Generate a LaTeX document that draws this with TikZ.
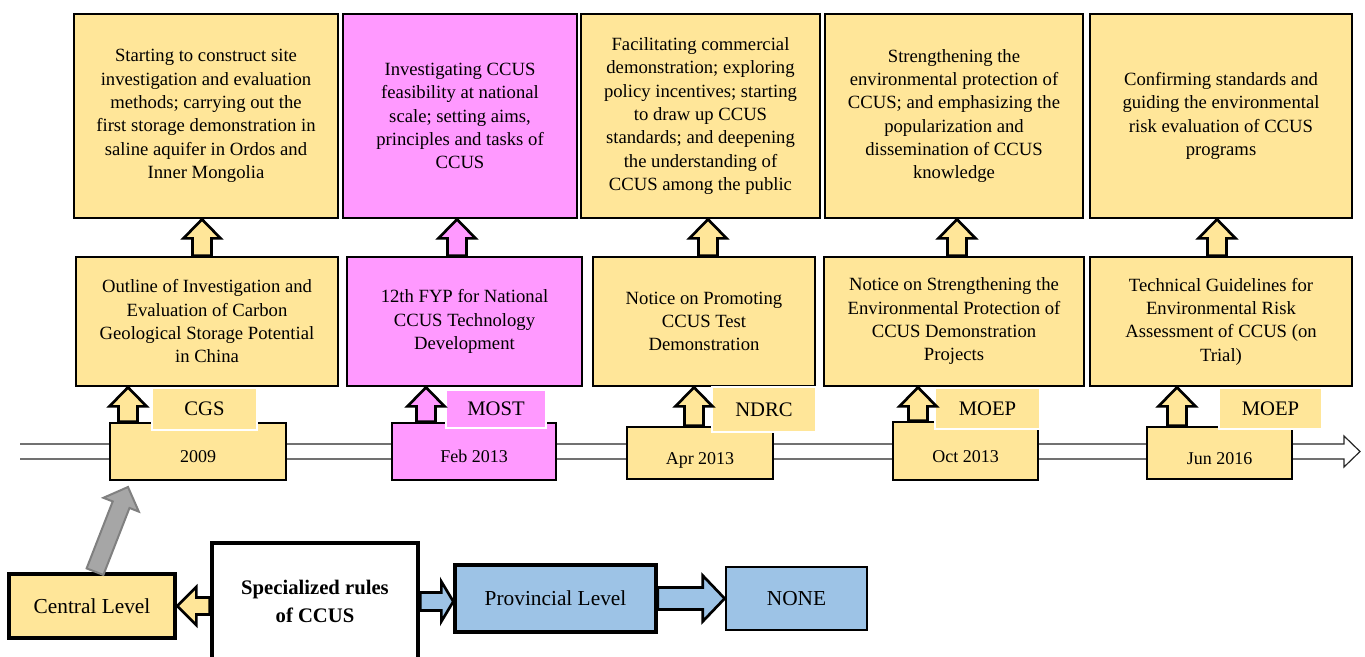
\documentclass[tikz,border=0pt]{standalone}
\usepackage{fontspec}
\setmainfont{Liberation Serif}
\usepackage{tikz}
\usetikzlibrary{calc}

\definecolor{ccyel}{HTML}{FFE699}
\definecolor{ccpink}{HTML}{FF99FF}
\definecolor{ccblue}{HTML}{9DC3E6}
\definecolor{ccgray}{HTML}{A6A6A6}

% block arrow: style, from, to, shaft half width, head half width, head length
\newcommand{\blkarrow}[6]{%
  \path ($(#3)!#6!(#2)$) coordinate (hb);
  \draw[#1] ($(#2)!#4!-90:(#3)$) -- ($(hb)!#4!-90:(#3)$) -- ($(hb)!#5!-90:(#3)$)
    -- (#3) -- ($(hb)!#5!90:(#3)$) -- ($(hb)!#4!90:(#3)$) -- ($(#2)!#4!90:(#3)$) -- cycle;}
% date text, set a little below the middle of its box
\newcommand{\datetext}[1]{\raisebox{-8.3pt}[0pt][0pt]{#1}}

\begin{document}
\begin{tikzpicture}[x=0.75pt, y=-0.75pt,
    box/.style={draw=black, line width=2pt, fill=ccyel, align=center, inner sep=0pt,
      font=\fontsize{14}{17.5}\selectfont},
    topbox/.style={box, minimum height=153pt},
    midbox/.style={box, minimum height=96.75pt},
    datebox/.style={box, font=\fontsize{13.5}{16}\selectfont},
    agency/.style={draw=white, line width=1.5pt, fill=ccyel, inner sep=0pt,
      font=\fontsize{15.5}{18}\selectfont},
    levelbox/.style={box, line width=3.5pt, font=\fontsize{16}{21}\selectfont},
    yarrow/.style={draw=black, line width=2pt, fill=ccyel, line join=miter},
    parrow/.style={yarrow, fill=ccpink},
    barrow/.style={yarrow, fill=ccblue},
    garrow/.style={draw=black!50, line width=1.5pt, fill=ccgray, line join=miter},
    tline/.style={draw=black!85, line width=0.9pt, fill=white}]

  \useasboundingbox (0,0) rectangle (1365,657);

  % Time line
  \coordinate (tl0) at (20,451.5);
  \coordinate (tl1) at (1360,451.5);
  \draw[tline] ($(tl0)+(0,-7.5)$) -- ($(tl1)+(-16,-7.5)$) -- ($(tl1)+(-16,-15.5)$) -- (tl1)
    -- ($(tl1)+(-16,15.5)$) -- ($(tl1)+(-16,7.5)$) -- ($(tl0)+(0,7.5)$);

  % Aims
  \node[topbox, minimum width=198pt] (t1) at (206,116)
    {Starting to construct site\\investigation and evaluation\\methods; carrying out the\\first storage demonstration in\\saline aquifer in Ordos and\\Inner Mongolia};
  \node[topbox, fill=ccpink, minimum width=175.5pt] (t2) at (460,116)
    {Investigating CCUS\\feasibility at national\\scale; setting aims,\\principles and tasks of\\CCUS};
  \node[topbox, minimum width=179.25pt] (t3) at (700.5,116)
    {Facilitating commercial\\demonstration; exploring\\policy incentives; starting\\to draw up CCUS\\standards; and deepening\\the understanding of\\CCUS among the public};
  \node[topbox, minimum width=193.5pt] (t4) at (954,116)
    {Strengthening the\\environmental protection of\\CCUS; and emphasizing the\\popularization and\\dissemination of CCUS\\knowledge};
  \node[topbox, minimum width=196.5pt] (t5) at (1221,116)
    {Confirming standards and\\guiding the environmental\\risk evaluation of CCUS\\programs};

  % Documents
  \node[midbox, minimum width=196.5pt] (m1) at (207,321.5)
    {Outline of Investigation and\\Evaluation of Carbon\\Geological Storage Potential\\in China};
  \node[midbox, fill=ccpink, minimum width=176.25pt] (m2) at (464.5,321.5)
    {12th FYP for National\\CCUS Technology\\Development};
  \node[midbox, minimum width=166.5pt] (m3) at (704,321.5)
    {Notice on Promoting\\CCUS Test\\Demonstration};
  \node[midbox, minimum width=195pt] (m4) at (954,321.5)
    {Notice on Strengthening the\\Environmental Protection of\\CCUS Demonstration\\Projects};
  \node[midbox, minimum width=196.5pt] (m5) at (1221,321.5)
    {Technical Guidelines for\\Environmental Risk\\Assessment of CCUS (on\\Trial)};

  % Dates
  \node[datebox, minimum width=132pt, minimum height=42.75pt] (d1) at (198,451.5) {\datetext{2009}};
  \node[datebox, fill=ccpink, minimum width=123pt, minimum height=42.75pt] (d2) at (474,451.5) {\datetext{Feb 2013}};
  \node[datebox, minimum width=109.5pt, minimum height=39pt] (d3) at (700,453) {\datetext{Apr 2013}};
  \node[datebox, minimum width=108.75pt, minimum height=43.5pt] (d4) at (965.5,451) {\datetext{Oct 2013}};
  \node[datebox, minimum width=108.75pt, minimum height=39pt] (d5) at (1219.5,453) {\datetext{Jun 2016}};

  % Issuing agencies
  \node[agency, minimum width=78.75pt, minimum height=31.5pt] (g1) at (204.5,409) {CGS};
  \node[agency, fill=ccpink, minimum width=75pt, minimum height=28.5pt] (g2) at (496,409) {MOST};
  \node[agency, minimum width=78pt, minimum height=33.75pt] (g3) at (764,409.5) {NDRC};
  \node[agency, minimum width=78.75pt, minimum height=30.75pt] (g4) at (987.5,408.5) {MOEP};
  \node[agency, minimum width=77.25pt, minimum height=30.75pt] (g5) at (1270.5,408.5) {MOEP};

  % Levels
  \node[levelbox, minimum width=124.5pt, minimum height=48pt] (cen) at (92,606) {Central Level};
  \node[levelbox, fill=white, minimum width=154.5pt, minimum height=87.75pt,
    font=\fontsize{15.5}{21}\selectfont\bfseries] (spec) at (315,601.5) {Specialized rules\\of CCUS};
  \node[levelbox, line width=2.5pt, fill=ccblue, minimum width=150.75pt, minimum height=50.25pt] (prov) at (555.5,598.5) {Provincial Level};
  \node[levelbox, line width=2pt, fill=ccblue, minimum width=105.75pt, minimum height=47.25pt] (none) at (796.5,598.5) {NONE};

  % Connect the nodes
  \blkarrow{yarrow}{d1.north -| 128,0}{m1.south -| 128,0}{7.1pt}{13.9pt}{14.25pt}
  \blkarrow{parrow}{d2.north -| 426,0}{m2.south -| 426,0}{7.1pt}{13.9pt}{14.25pt}
  \blkarrow{yarrow}{d3.north -| 694,0}{m3.south -| 694,0}{7.1pt}{13.9pt}{14.25pt}
  \blkarrow{yarrow}{d4.north -| 918,0}{m4.south -| 918,0}{7.1pt}{13.9pt}{14.25pt}
  \blkarrow{yarrow}{d5.north -| 1177,0}{m5.south -| 1177,0}{7.1pt}{13.9pt}{14.25pt}

  \blkarrow{yarrow}{m1.north -| 202,0}{t1.south -| 202,0}{7.1pt}{13.9pt}{14.25pt}
  \blkarrow{parrow}{m2.north -| 457,0}{t2.south -| 457,0}{7.1pt}{13.9pt}{14.25pt}
  \blkarrow{yarrow}{m3.north -| 708,0}{t3.south -| 708,0}{7.1pt}{13.9pt}{14.25pt}
  \blkarrow{yarrow}{m4.north -| 957,0}{t4.south -| 957,0}{7.1pt}{13.9pt}{14.25pt}
  \blkarrow{yarrow}{m5.north -| 1217,0}{t5.south -| 1217,0}{7.1pt}{13.9pt}{14.25pt}

  \coordinate (gtip) at (128,487);
  \blkarrow{garrow}{cen.north -| 95,0}{gtip}{6.75pt}{14.25pt}{14.25pt}
  \blkarrow{yarrow}{spec.west |- cen.east}{cen.east}{6.4pt}{14.25pt}{14.25pt}
  \blkarrow{barrow}{spec.east}{prov.west |- spec.east}{6.75pt}{15pt}{9pt}
  \blkarrow{barrow}{prov.east}{none.west}{8.25pt}{17.25pt}{16.5pt}

\end{tikzpicture}
\end{document}
